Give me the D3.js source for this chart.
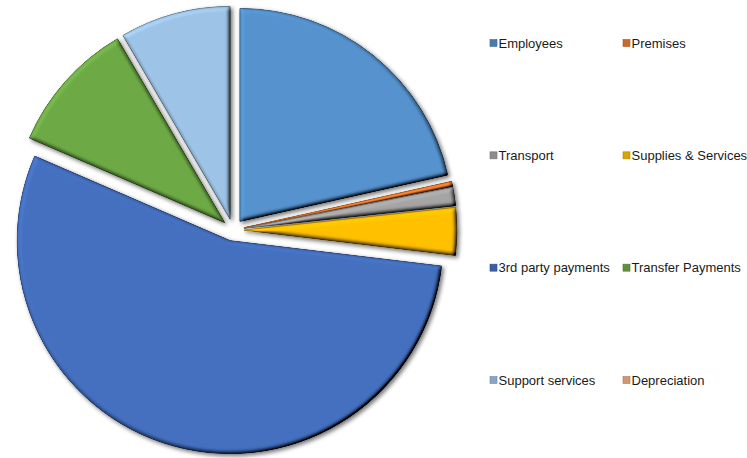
<!DOCTYPE html>
<html>
<head>
<meta charset="utf-8">
<script src="https://cdn.jsdelivr.net/npm/d3@7"></script>
<style>
  html, body { margin: 0; padding: 0; background: #fff; }
  svg { display: block; }
  text { font-family: "Liberation Sans", Arial, sans-serif; }
</style>
</head>
<body>
<div id="chart"></div>
<script>
// Spending breakdown by category (share of total, %)
const categories = [
  "Employees", "Premises", "Transport", "Supplies & Services",
  "3rd party payments", "Transfer Payments", "Support services", "Depreciation"
];
const values = [21.5, 0.4, 1.4, 3.6, 54.6, 10.1, 8.4, 0];
const colors = [
  "#5592CE", "#ED7D31", "#A5A5A5", "#FFC000",
  "#4470C0", "#6DAA45", "#9DC3E6", "#F4B183"
];

const W = 747, H = 458;
const cx = 233, cy = 230, R = 213, explode = 11;

const svg = d3.select("#chart").append("svg")
  .attr("width", W).attr("height", H);

const defs = svg.append("defs");

// Bevel: lit edges top-left, darker edges bottom-right, plus soft shadow
const f = defs.append("filter").attr("id", "bevel")
  .attr("x", "-10%").attr("y", "-10%").attr("width", "125%").attr("height", "125%");
f.append("feGaussianBlur").attr("in", "SourceAlpha").attr("stdDeviation", 2.2).attr("result", "blur");
const light = f.append("feDiffuseLighting").attr("in", "blur")
  .attr("surfaceScale", 5).attr("diffuseConstant", 1)
  .attr("lighting-color", "#ffffff").attr("result", "diff");
light.append("feDistantLight").attr("azimuth", 225).attr("elevation", 55);
f.append("feComposite").attr("in", "SourceGraphic").attr("in2", "diff")
  .attr("operator", "arithmetic").attr("k1", 1.22).attr("k2", 0).attr("k3", 0).attr("k4", 0)
  .attr("result", "lit");
f.append("feComposite").attr("in", "lit").attr("in2", "SourceAlpha")
  .attr("operator", "in").attr("result", "litIn");
f.append("feGaussianBlur").attr("in", "SourceAlpha").attr("stdDeviation", 2).attr("result", "sblur");
f.append("feOffset").attr("in", "sblur").attr("dx", 1.5).attr("dy", 2).attr("result", "soff");
f.append("feComponentTransfer").attr("in", "soff").attr("result", "shadow")
  .append("feFuncA").attr("type", "linear").attr("slope", 0.55);
const merge = f.append("feMerge");
merge.append("feMergeNode").attr("in", "shadow");
merge.append("feMergeNode").attr("in", "litIn");

const pie = d3.pie().sort(null).value(d => d);
const arcs = pie(values);
const arc = d3.arc().innerRadius(0).outerRadius(R);

const g = svg.append("g").attr("transform", `translate(${cx},${cy})`);

g.selectAll("path.slice")
  .data(arcs.filter(d => d.endAngle > d.startAngle))
  .join("path")
  .attr("class", "slice")
  .attr("d", arc)
  .attr("fill", d => colors[d.index])
  .attr("stroke", d => d3.color(colors[d.index]).darker(1.1))
  .attr("stroke-width", 1)
  .attr("stroke-linejoin", "round")
  .attr("filter", "url(#bevel)")
  .attr("transform", d => {
    const mid = (d.startAngle + d.endAngle) / 2;
    return `translate(${Math.sin(mid) * explode},${-Math.cos(mid) * explode})`;
  });

// Legend: two columns, four rows
const colX = [490, 623];
const rowY = d3.scaleLinear().domain([0, 3]).range([43, 380]);

const legend = svg.append("g");
const items = legend.selectAll("g")
  .data(categories)
  .join("g")
  .attr("transform", (d, i) => `translate(${colX[i % 2]},${rowY(Math.floor(i / 2))})`);

items.append("rect")
  .attr("x", 0).attr("y", -3.5)
  .attr("width", 7).attr("height", 7)
  .attr("fill", (d, i) => d3.color(colors[i]).darker(0.45))
  .attr("stroke", (d, i) => d3.color(colors[i]).darker(1))
  .attr("stroke-width", 0.6);

items.append("text")
  .attr("x", 8.5).attr("y", 0)
  .attr("dy", "0.35em")
  .attr("font-size", 13)
  .attr("fill", "#1a1a1a")
  .text(d => d);
</script>
</body>
</html>
